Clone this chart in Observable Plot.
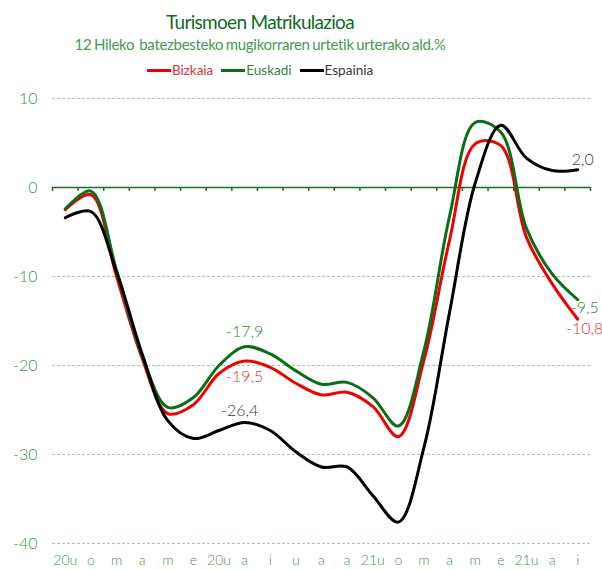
<!DOCTYPE html>
<html>
<head>
<meta charset="utf-8">
<script src="https://cdn.jsdelivr.net/npm/d3@7"></script>
<script src="https://cdn.jsdelivr.net/npm/@observablehq/plot@0.6"></script>
<style>
  html, body { margin: 0; padding: 0; background: white; }
  body { width: 602px; height: 570px; position: relative; overflow: hidden; font-family: Lato, sans-serif; }
  #header { position: relative; height: 85px; width: 602px; }
  .hline { position: absolute; left: 0; width: 520px; text-align: center; line-height: 1.2; white-space: nowrap; }
  #title { top: 11px; font-size: 19px; color: #0d6b1e; letter-spacing: -0.7px; }
  #subtitle { top: 35px; font-size: 15px; color: #459a55; letter-spacing: -0.3px; word-spacing: -1px; }
  #legend { top: 62px; font-size: 13.5px; }
  .sw { display: inline-block; width: 24px; height: 3px; vertical-align: middle; margin-right: 1px; position: relative; top: -1px; }
  .item { margin: 0 4px; }
  #chart svg { display: block; overflow: visible; }
  #chart svg text { font-weight: 300; }
</style>
</head>
<body>
<div id="header">
  <div class="hline" id="title">Turismoen Matrikulazioa</div>
  <div class="hline" id="subtitle">12 Hileko&nbsp; batezbesteko mugikorraren urtetik urterako ald.%</div>
  <div class="hline" id="legend"></div>
</div>
<div id="chart"></div>
<script>
// ---- data ----
const months = ["20u","o","m","a","m","e","20u","a","i","u","a","a","21u","o","m","a","m","e","21u","a","i"];
const seriesNames = ["Bizkaia", "Euskadi", "Espainia"];
const bizkaia  = [-2.5, -0.8, -10.0, -19.2, -25.4, -24.4, -20.9, -19.5, -20.2, -22.0, -23.3, -23.0, -24.6, -28.0, -19.4, -5.9, 4.9, 4.7, -5.6, -10.8, -14.8];
const euskadi  = [-2.4, -0.4, -9.3, -18.9, -24.7, -23.6, -20.0, -17.9, -18.7, -20.6, -22.1, -21.9, -23.6, -26.8, -18.3, -3.2, 7.3, 6.2, -4.6, -9.7, -12.6];
const espainia = [-3.4, -2.7, -9.5, -18.7, -26.2, -28.2, -27.3, -26.4, -27.3, -29.7, -31.4, -31.4, -34.6, -37.6, -29.2, -14.0, 0.5, 7.0, 3.3, 1.9, 2.0];
const yTicks = [-40, -30, -20, -10, 0, 10];
const labelSeries = ["Euskadi", "Bizkaia", "Espainia", "Espainia", "Euskadi", "Bizkaia"];
const labelIndex  = [7, 7, 7, 20, 20, 20];
const labelText   = ["-17,9", "-19,5", "-26,4", "2,0", "-9,5", "-10,8"];

// ---- styles ----
const lineColor = {Bizkaia: "#ee0000", Euskadi: "#0a6e16", Espainia: "#000000"};
const textColor = {Bizkaia: "#e23036", Euskadi: "#33843e", Espainia: "#383838"};
const labelOffset = [[0, -15], [0, 16], [-5, -12], [5, -10], [7, 8], [7, 10]];
const axisGreen = "#3f8f4f";
const zeroGreen = "#1f6e22";
const gridGreen = "#9fcca5";

const valuesBy = {Bizkaia: bizkaia, Euskadi: euskadi, Espainia: espainia};

// legend
const legend = document.getElementById("legend");
legend.innerHTML = seriesNames.map(n =>
  `<span class="item"><span class="sw" style="background:${lineColor[n]}"></span><span style="color:${textColor[n]}">${n}</span></span>`
).join("");

const rows = seriesNames.flatMap(s => valuesBy[s].map((v, i) => ({series: s, i, value: v})));
const boundaries = d3.range(months.length + 1).map(k => k - 0.5);

const marks = [
  Plot.ruleY(yTicks.filter(t => t !== 0), {stroke: gridGreen, strokeDasharray: "3,2", strokeWidth: 1}),
  Plot.ruleY([0], {stroke: zeroGreen, strokeWidth: 1.5}),
  Plot.ruleX(boundaries, {x: d => d, y1: 0, y2: -0.45, stroke: zeroGreen, strokeWidth: 1.5}),
  ...seriesNames.map(s => Plot.line(rows.filter(r => r.series === s), {
    x: "i", y: "value", stroke: lineColor[s], strokeWidth: 3, curve: "catmull-rom"
  })),
  ...labelText.map((t, k) => Plot.text([{i: labelIndex[k], value: valuesBy[labelSeries[k]][labelIndex[k]], t}], {
    x: "i", y: "value", text: "t", fill: textColor[labelSeries[k]], fontSize: 16,
    dx: labelOffset[k][0], dy: labelOffset[k][1]
  })),
  Plot.axisY({ticks: yTicks, tickFormat: d => String(d), tickSize: 0, tickPadding: 15, color: axisGreen, fontSize: 16, label: null}),
  Plot.axisX({ticks: d3.range(months.length), tickFormat: i => months[i], tickSize: 0, tickPadding: 12, color: axisGreen, fontSize: 14, label: null})
];

const chart = Plot.plot({
  width: 602,
  height: 485,
  marginTop: 13,
  marginBottom: 27,
  marginLeft: 52,
  marginRight: 12,
  x: {type: "linear", domain: [-0.5, months.length - 0.5]},
  y: {domain: [-40, 10]},
  style: {fontFamily: "Lato, sans-serif", fontSize: "16px", background: "white", overflow: "visible"},
  marks
});
document.getElementById("chart").appendChild(chart);
</script>
</body>
</html>
